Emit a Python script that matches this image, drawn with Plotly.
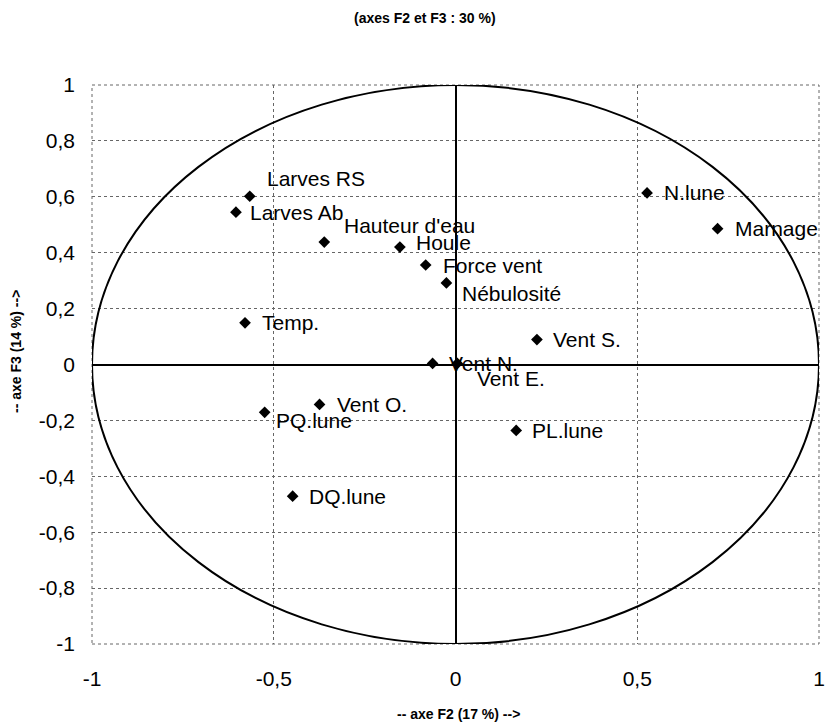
import plotly.graph_objects as go

# ---- data ----
variables = ["Larves RS", "Larves Ab", "Hauteur d'eau", "Houle", "Force vent",
             "Nébulosité", "Temp.", "Vent N.", "Vent E.", "Vent O.", "PQ.lune",
             "PL.lune", "DQ.lune", "Vent S.", "N.lune", "Marnage"]
f2_values = [-0.566, -0.604, -0.361, -0.153, -0.082, -0.025, -0.579, -0.063,
             0.005, -0.374, -0.525, 0.167, -0.448, 0.224, 0.527, 0.721]
f3_values = [0.602, 0.545, 0.438, 0.420, 0.356, 0.292, 0.149, 0.004,
             0.004, -0.143, -0.171, -0.236, -0.471, 0.089, 0.614, 0.486]

x_tick_values = [-1, -0.5, 0, 0.5, 1]
x_tick_labels = ["-1", "-0,5", "0", "0,5", "1"]
y_tick_values = [-1, -0.8, -0.6, -0.4, -0.2, 0, 0.2, 0.4, 0.6, 0.8, 1]
y_tick_labels = ["-1", "-0,8", "-0,6", "-0,4", "-0,2", "0", "0,2", "0,4", "0,6", "0,8", "1"]

title_text = "(axes F2 et F3 : 30 %)"
x_title = "-- axe F2 (17 %) -->"
y_title = "-- axe F3 (14 %) -->"

# label offsets in pixels (style only): (dx, dy) with dy positive = up
label_offsets = {
    "Larves RS": (15, 18), "Larves Ab": (12, 0), "Hauteur d'eau": (18, 17),
    "Houle": (14, 5), "Force vent": (15, 0), "Nébulosité": (14, -11),
    "Temp.": (15, 0), "Vent N.": (14, 0), "Vent E.": (18, -15),
    "Vent O.": (15, 0), "PQ.lune": (9, -8), "PL.lune": (14, 0),
    "DQ.lune": (14, 0), "Vent S.": (14, 0), "N.lune": (15, 0), "Marnage": (15, 0),
}

FONT = "Liberation Sans, Arial, sans-serif"
L, R, T, B = 92, 7, 85, 83
PW, PH = 826 - L - R, 727 - T - B

fig = go.Figure()
fig.add_trace(go.Scatter(
    x=f2_values, y=f3_values, mode="markers",
    marker=dict(symbol="diamond", size=9, color="black"),
    hoverinfo="text", text=variables, showlegend=False,
))

annotations = []
for name, xv, yv in zip(variables, f2_values, f3_values):
    dx, dy = label_offsets[name]
    annotations.append(dict(
        x=xv, y=yv, xref="x", yref="y", text=name, showarrow=False,
        xanchor="left", yanchor="middle", xshift=dx, yshift=dy,
        font=dict(family=FONT, size=21, color="black"),
    ))

annotations += [
    dict(text="<b>" + title_text + "</b>", xref="paper", yref="paper",
         x=(425 - L) / PW, y=1 + (T - 18) / PH, showarrow=False,
         xanchor="center", yanchor="middle",
         font=dict(family=FONT, size=14, color="black")),
    dict(text="<b>" + x_title + "</b>", xref="paper", yref="paper",
         x=(458 - L) / PW, y=-(714 - 644) / PH, showarrow=False,
         xanchor="center", yanchor="middle",
         font=dict(family=FONT, size=14, color="black")),
    dict(text="<b>" + y_title + "</b>", xref="paper", yref="paper",
         x=-(L - 16) / PW, y=(644 - 352) / PH, showarrow=False,
         xanchor="center", yanchor="middle", textangle=-90,
         font=dict(family=FONT, size=14, color="black")),
]

fig.update_layout(
    width=826, height=727, autosize=False,
    margin=dict(l=L, r=R, t=T, b=B, pad=0, autoexpand=False),
    paper_bgcolor="white", plot_bgcolor="white",
    annotations=annotations,
    shapes=[
        dict(type="rect", xref="paper", yref="paper", x0=0, y0=0, x1=1, y1=1,
             line=dict(color="#666", width=1, dash="dot"), layer="below"),
        dict(type="circle", xref="x", yref="y", x0=-1, y0=-1, x1=1, y1=1,
             line=dict(color="black", width=2), layer="above"),
    ],
)

fig.update_xaxes(
    range=[-1, 1], tickvals=x_tick_values, ticktext=x_tick_labels,
    showgrid=True, gridcolor="#666", gridwidth=1, griddash="dot",
    zeroline=True, zerolinecolor="black", zerolinewidth=2, automargin=False,
    showline=False, ticks="", ticklabelstandoff=20, ticklabeloverflow="allow",
    tickfont=dict(family=FONT, size=21, color="black"),
)
fig.update_yaxes(
    range=[-1, 1], tickvals=y_tick_values, ticktext=y_tick_labels,
    showgrid=True, gridcolor="#666", gridwidth=1, griddash="dot",
    zeroline=True, zerolinecolor="black", zerolinewidth=2, automargin=False,
    showline=False, ticks="", ticklabelstandoff=16, ticklabeloverflow="allow",
    tickfont=dict(family=FONT, size=21, color="black"),
)

fig.write_html("out.html", config={"displayModeBar": False},
               post_script="document.body.style.margin='0';")
